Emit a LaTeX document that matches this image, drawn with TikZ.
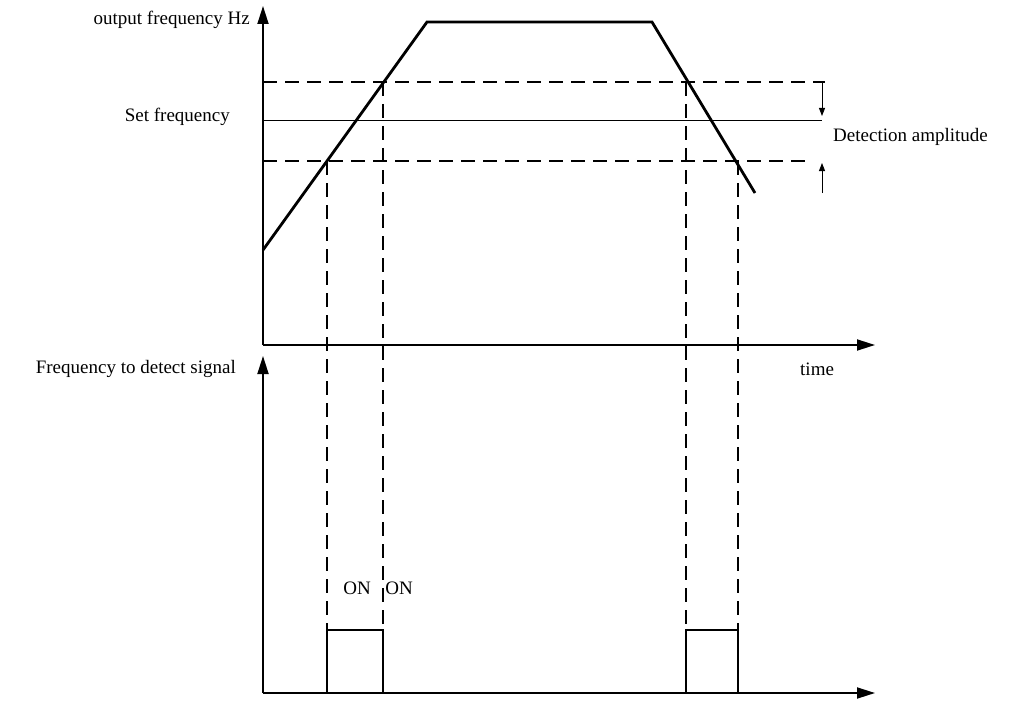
\documentclass[tikz,border=0pt]{standalone}
\usepackage{fontspec}
\setmainfont{Liberation Serif}
\usetikzlibrary{arrows.meta}
\begin{document}
\begin{tikzpicture}[x=1pt,y=-1pt,
  axis/.style={line width=1.8pt,-{Triangle[length=18pt,width=11pt]}},
  guide/.style={line width=1.6pt,dash pattern=on 14pt off 8pt},
  lbl/.style={font=\fontsize{19}{21}\selectfont,inner sep=0pt}]
\useasboundingbox (0,0) rectangle (1012,706);
% axes
\coordinate (o1) at (263,345);
\coordinate (o2) at (263,693);
\draw[axis] (o1) -- (263,6);
\draw[axis] (o1) -- (875,345);
\draw[axis] (o2) -- (263,356);
\draw[axis] (o2) -- (875,693);
% levels
\draw[guide] (263,82) -- (825,82);
\draw[guide] (263,161) -- (805,161) -- (805,167);
\draw[line width=0.9pt] (263,120) -- (822,120);
\draw[line width=0.9pt,-{Triangle[length=8pt,width=6pt]}] (822,82) -- (822,116);
\draw[line width=0.9pt,-{Triangle[length=8pt,width=6pt]}] (822,193) -- (822,163);
% output frequency
\draw[line width=2.8pt] (263,250) -- (427,22) -- (652,22) -- (755,193);
% projections
\foreach \xa/\ya in {327/161,383/82,686/82,738/161}
  \draw[guide] (\xa,\ya) -- (\xa,630);
% pulses
\draw[line width=1.8pt] (327,693) -- (327,630) -- (383,630) -- (383,693);
\draw[line width=1.8pt] (686,693) -- (686,630) -- (738,630) -- (738,693);
% labels
\node[lbl,anchor=east] (fout) at (250,20) {output frequency Hz};
\node[lbl,anchor=east] (fset) at (230,117) {Set frequency};
\node[lbl,anchor=west] (amp) at (833,137) {Detection amplitude};
\node[lbl,anchor=east] (fdt) at (236,369) {Frequency to detect signal};
\node[lbl,anchor=west] (time) at (800,369) {time};
\node[lbl] (on1) at (357,588) {ON};
\node[lbl] (on2) at (399,588) {ON};
\end{tikzpicture}
\end{document}
